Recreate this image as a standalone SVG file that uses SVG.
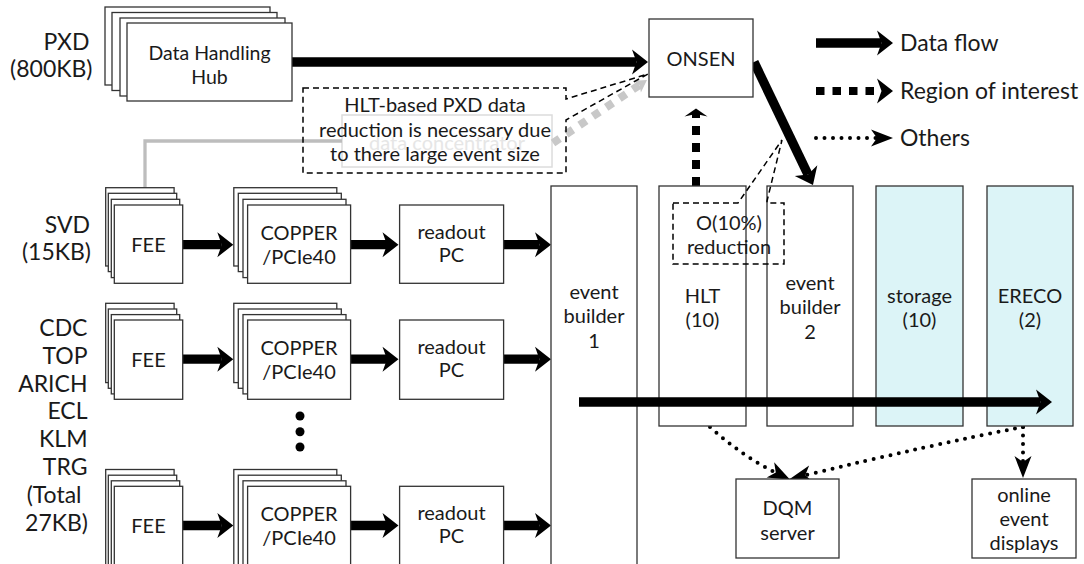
<svg xmlns="http://www.w3.org/2000/svg" width="1084" height="564" viewBox="0 0 1084 564">
<defs>
<style>
.t{font-family:Lato,'Open Sans','Liberation Sans',sans-serif;font-size:20px;fill:#1a1a1a;text-anchor:middle}
.lbl{font-family:Lato,'Open Sans','Liberation Sans',sans-serif;font-size:23px;fill:#1a1a1a;text-anchor:end}
.leg{font-family:Lato,'Open Sans','Liberation Sans',sans-serif;font-size:23px;fill:#1a1a1a}
.box{fill:#fff;stroke:#333;stroke-width:1.3}
.cyan{fill:#dcf4f7;stroke:#333;stroke-width:1.3}
.flow{stroke:#000;stroke-width:9.3;fill:none;marker-end:url(#hf)}
.roi{stroke:#000;stroke-width:8;stroke-dasharray:9 8;fill:none}
.dot{stroke:#000;stroke-width:4;stroke-linecap:round;stroke-dasharray:0 8.5;fill:none;marker-end:url(#hd)}
.call{fill:none;stroke:#000;stroke-width:1.5;stroke-dasharray:6 4}
</style>
<marker id="hf" markerUnits="userSpaceOnUse" markerWidth="18" markerHeight="26" refX="4.5" refY="12.5" orient="auto" overflow="visible"><path d="M0,0 L16,12.5 L0,25 L4.5,12.5 Z" fill="#000"/></marker>
<marker id="hr" markerUnits="userSpaceOnUse" markerWidth="10" markerHeight="24" refX="2.5" refY="11.5" orient="auto" overflow="visible"><path d="M0,0 L8,11.5 L0,23 L2.5,11.5 Z" fill="#000"/></marker>
<marker id="hrl" markerUnits="userSpaceOnUse" markerWidth="18" markerHeight="26" refX="4.5" refY="12.5" orient="auto" overflow="visible"><path d="M0,0 L16,12.5 L0,25 L4.5,12.5 Z" fill="#000"/></marker>
<marker id="hd" markerUnits="userSpaceOnUse" markerWidth="24" markerHeight="18" refX="6" refY="8.5" orient="auto" overflow="visible"><path d="M0,0 L22,8.5 L0,17 L6,8.5 Z" fill="#000"/></marker>
<marker id="hg" markerUnits="userSpaceOnUse" markerWidth="14" markerHeight="16" refX="3" refY="7" orient="auto" overflow="visible"><path d="M0,0 L12,7 L0,14 L3,7 Z" fill="#c8c8c8"/></marker>
</defs>
<rect width="1084" height="564" fill="#fff"/>

<g id="labels">
<text class="lbl" x="89.5" y="49.5">PXD</text>
<text class="lbl" x="92.5" y="76.5">(800KB)</text>
<text class="lbl" x="90" y="233">SVD</text>
<text class="lbl" x="91" y="259.5">(15KB)</text>
<text class="lbl" x="87.5" y="335.7">CDC</text>
<text class="lbl" x="87.5" y="363.6">TOP</text>
<text class="lbl" x="87.5" y="391.5">ARICH</text>
<text class="lbl" x="87.5" y="419.4">ECL</text>
<text class="lbl" x="87.5" y="447.3">KLM</text>
<text class="lbl" x="87.5" y="475.2">TRG</text>
<text class="lbl" x="81.5" y="503.1">(Total</text>
<text class="lbl" x="88" y="531">27KB)</text>
</g>

<g id="data-concentrator">
<rect x="342" y="115" width="210" height="52" fill="#fff" stroke="#dcdcdc" stroke-width="1.5"/>
<text class="t" x="447" y="150" style="fill:#e6e6e6">data concentrator</text>
</g>

<g id="connectors">
<path d="M145,187.7 V141 H342" fill="none" stroke="#bdbdbd" stroke-width="3.3"/>
<path d="M553,143 L639.5,85" fill="none" stroke="#c8c8c8" stroke-width="8" stroke-dasharray="8 8" marker-end="url(#hg)"/>
<path class="flow" d="M292,62 H636.5"/>
<path class="flow" d="M754,62 L808,174.6"/>
<path class="roi" d="M696,186 V114" marker-end="url(#hr)"/>
<path class="flow" d="M182.7,244.7 H221.8"/>
<path class="flow" d="M350.6,244.7 H387"/>
<path class="flow" d="M503.4,244.7 H539.5"/>
<path class="flow" d="M182.7,359.2 H221.8"/>
<path class="flow" d="M350.6,359.2 H387"/>
<path class="flow" d="M503.4,359.2 H539.5"/>
<path class="flow" d="M182.7,525.5 H221.8"/>
<path class="flow" d="M350.6,525.5 H387"/>
<path class="flow" d="M503.4,525.5 H539.5"/>
<path class="dot" d="M710,427 Q742,456 775.8,472.6"/>
<path class="dot" d="M1023,427 Q930,445 805.3,475.2"/>
<path class="dot" d="M1023,427 V462"/>
</g>

<g id="dhh">
<rect class="box" x="105" y="7" width="165" height="78"/>
<rect class="box" x="112" y="12.5" width="165" height="78"/>
<rect class="box" x="120" y="18" width="165" height="78"/>
<rect class="box" x="127" y="23" width="165" height="78"/>
<text class="t" x="209.5" y="60" style="font-size:19.5px">Data Handling</text>
<text class="t" x="209.5" y="83.5" style="font-size:19.5px">Hub</text>
</g>

<g id="onsen">
<rect class="box" x="649" y="19" width="104" height="78"/>
<text class="t" x="701" y="66">ONSEN</text>
</g>

<g id="fee-svd">
<rect class="box" x="105.7" y="187.7" width="68.4" height="78.3"/>
<rect class="box" x="108.3" y="193.3" width="68.4" height="78.3"/>
<rect class="box" x="111.3" y="199.3" width="68.4" height="78.3"/>
<rect class="box" x="114.3" y="205" width="68.4" height="78.3"/>
<text class="t" x="148.5" y="252">FEE</text>
</g>
<g id="copper-svd">
<rect class="box" x="233.8" y="187.7" width="103" height="78.3"/>
<rect class="box" x="238.3" y="193.3" width="103" height="78.3"/>
<rect class="box" x="243" y="199.3" width="103" height="78.3"/>
<rect class="box" x="247.6" y="205" width="103" height="78.3"/>
<text class="t" x="299" y="240">COPPER</text>
<text class="t" x="299" y="263.5">/PCIe40</text>
</g>
<g id="readout-svd">
<rect class="box" x="399.6" y="205" width="104" height="78.3"/>
<text class="t" x="451.5" y="238.5">readout</text>
<text class="t" x="451.5" y="262">PC</text>
</g>

<g id="fee-cdc">
<rect class="box" x="105.7" y="303.3" width="68.4" height="79.3"/>
<rect class="box" x="108.3" y="309" width="68.4" height="79.3"/>
<rect class="box" x="111.3" y="314.6" width="68.4" height="79.3"/>
<rect class="box" x="114.3" y="320" width="68.4" height="79.3"/>
<text class="t" x="148.5" y="367">FEE</text>
</g>
<g id="copper-cdc">
<rect class="box" x="233.8" y="303.3" width="103" height="79.3"/>
<rect class="box" x="238.3" y="309" width="103" height="79.3"/>
<rect class="box" x="243" y="314.6" width="103" height="79.3"/>
<rect class="box" x="247.6" y="320" width="103" height="79.3"/>
<text class="t" x="299" y="355">COPPER</text>
<text class="t" x="299" y="378.5">/PCIe40</text>
</g>
<g id="readout-cdc">
<rect class="box" x="399.6" y="320" width="104" height="79.3"/>
<text class="t" x="451.5" y="353.5">readout</text>
<text class="t" x="451.5" y="377">PC</text>
</g>

<g id="ellipsis">
<circle cx="300" cy="416" r="4.5" fill="#000"/>
<circle cx="300" cy="431.7" r="4.5" fill="#000"/>
<circle cx="300" cy="447" r="4.5" fill="#000"/>
</g>

<g id="fee-last">
<rect class="box" x="105.7" y="469.5" width="68.4" height="100"/>
<rect class="box" x="108.3" y="475.2" width="68.4" height="100"/>
<rect class="box" x="111.3" y="480.8" width="68.4" height="100"/>
<rect class="box" x="114.3" y="486.3" width="68.4" height="100"/>
<text class="t" x="148.5" y="533">FEE</text>
</g>
<g id="copper-last">
<rect class="box" x="233.8" y="469.5" width="103" height="100"/>
<rect class="box" x="238.3" y="475.2" width="103" height="100"/>
<rect class="box" x="243" y="480.8" width="103" height="100"/>
<rect class="box" x="247.6" y="486.3" width="103" height="100"/>
<text class="t" x="299" y="521">COPPER</text>
<text class="t" x="299" y="544.5">/PCIe40</text>
</g>
<g id="readout-last">
<rect class="box" x="399.6" y="486.3" width="104" height="100"/>
<text class="t" x="451.5" y="519.5">readout</text>
<text class="t" x="451.5" y="543">PC</text>
</g>

<g id="eb1">
<rect class="box" x="551" y="186" width="86" height="400"/>
<text class="t" x="594" y="298.5">event</text>
<text class="t" x="594" y="323">builder</text>
<text class="t" x="594" y="347.5">1</text>
</g>
<g id="hlt">
<rect class="box" x="659" y="186" width="87" height="240"/>
<text class="t" x="702.5" y="303">HLT</text>
<text class="t" x="702.5" y="327">(10)</text>
</g>
<g id="eb2">
<rect class="box" x="767" y="186" width="86" height="240"/>
<text class="t" x="810" y="290">event</text>
<text class="t" x="810" y="314">builder</text>
<text class="t" x="810" y="339">2</text>
</g>
<g id="storage">
<rect class="cyan" x="876" y="186" width="87" height="240"/>
<text class="t" x="919.5" y="303">storage</text>
<text class="t" x="919.5" y="327">(10)</text>
</g>
<g id="ereco">
<rect class="cyan" x="987" y="186" width="86" height="240"/>
<text class="t" x="1030" y="303">ERECO</text>
<text class="t" x="1030" y="327">(2)</text>
</g>

<path class="flow" d="M579,402 H1040.5"/>

<g id="dqm">
<rect class="box" x="736" y="479" width="103" height="79"/>
<text class="t" x="787.5" y="515">DQM</text>
<text class="t" x="787.5" y="540">server</text>
</g>
<g id="online-displays">
<rect class="box" x="972" y="479" width="104" height="79"/>
<text class="t" x="1024" y="502">online</text>
<text class="t" x="1024" y="526">event</text>
<text class="t" x="1024" y="550">displays</text>
</g>

<g id="callout-hlt">
<path class="call" d="M303,88 H566 V99 L648,74 L566,120 V173 H303 Z"/>
<text class="t" x="435" y="112">HLT-based PXD data</text>
<text class="t" x="435" y="137">reduction is necessary due</text>
<text class="t" x="435" y="161">to there large event size</text>
</g>

<g id="callout-reduction">
<path class="call" d="M673,203 H738 L782,140 L767,201 V203 H784 V264 H673 Z"/>
<text class="t" x="729" y="230">O(10%)</text>
<text class="t" x="729" y="254">reduction</text>
</g>

<g id="legend">
<path class="flow" d="M816,43 H881.5"/>
<text class="leg" x="900" y="51">Data flow</text>
<path class="roi" d="M816,91 H881.5" style="stroke-dasharray:8.5 8" marker-end="url(#hrl)"/>
<text class="leg" x="900" y="99">Region of interest</text>
<path class="dot" d="M816,138 H877"/>
<text class="leg" x="900" y="146">Others</text>
</g>
</svg>
